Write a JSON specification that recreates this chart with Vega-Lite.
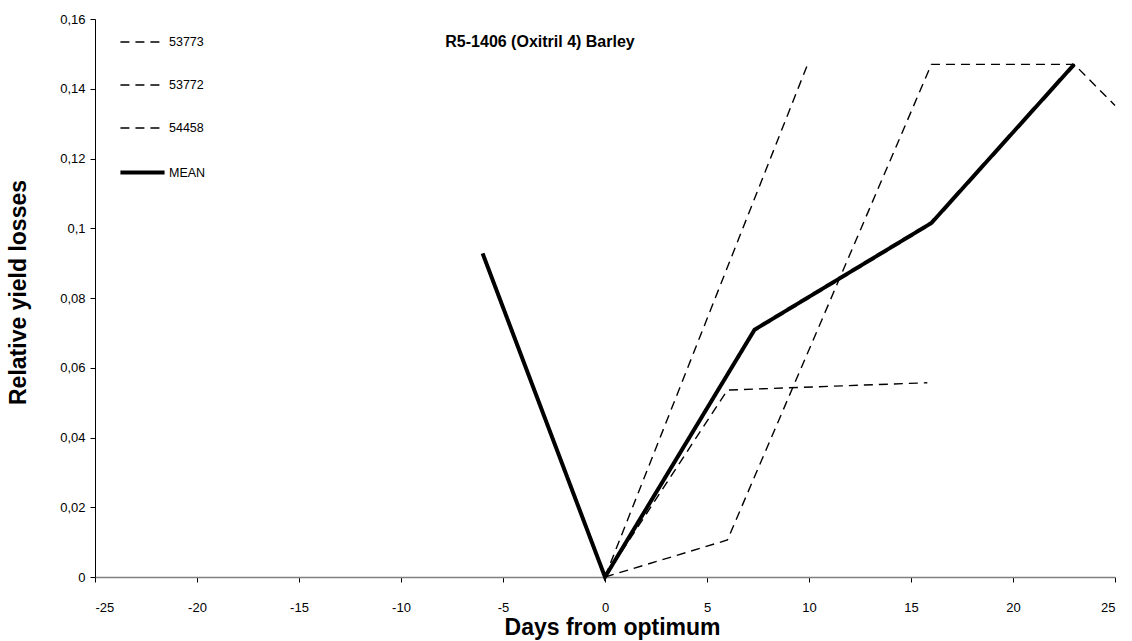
{
  "$schema": "https://vega.github.io/schema/vega-lite/v6.json",
  "autosize": "none",
  "width": 1020,
  "height": 558,
  "padding": {"left": 95, "top": 19, "right": 17, "bottom": 64},
  "background": "white",
  "title": {
    "text": "R5-1406 (Oxitril 4) Barley",
    "font": "Liberation Sans",
    "fontSize": 16,
    "fontWeight": "bold",
    "color": "black",
    "anchor": "middle",
    "frame": "group",
    "orient": "top",
    "offset": -37,
    "dx": -65
  },
  "data": {
    "values": [
      {"series": "53773", "x": 0, "y": 0},
      {"series": "53773", "x": 10, "y": 0.148},
      {"series": "53772", "x": 0, "y": 0},
      {"series": "53772", "x": 6, "y": 0.0106},
      {"series": "53772", "x": 16, "y": 0.147},
      {"series": "53772", "x": 23, "y": 0.147},
      {"series": "53772", "x": 25, "y": 0.1352},
      {"series": "54458", "x": 0, "y": 0},
      {"series": "54458", "x": 6, "y": 0.0536},
      {"series": "54458", "x": 15.8, "y": 0.0557},
      {"series": "MEAN", "x": -6, "y": 0.0928},
      {"series": "MEAN", "x": 0, "y": 0},
      {"series": "MEAN", "x": 7.33, "y": 0.0709},
      {"series": "MEAN", "x": 16, "y": 0.1015},
      {"series": "MEAN", "x": 23, "y": 0.147}
    ]
  },
  "mark": {"type": "line", "color": "black", "strokeCap": "butt", "strokeJoin": "miter"},
  "encoding": {
    "x": {
      "field": "x",
      "type": "quantitative",
      "scale": {"domain": [-25, 25], "nice": false, "zero": false},
      "axis": {
        "values": [-25, -20, -15, -10, -5, 0, 5, 10, 15, 20, 25],
        "labelExpr": "toString(datum.value)",
        "title": "Days from optimum",
        "titleX": 517,
        "titleY": 50,
        "titleBaseline": "middle",
        "titleAnchor": "middle",
        "domainColor": "#808080",
        "domainWidth": 1.5,
        "tickColor": "#000000",
        "tickSize": 5,
        "labelPadding": 19,
        "grid": false
      }
    },
    "y": {
      "field": "y",
      "type": "quantitative",
      "scale": {"domain": [0, 0.16], "nice": false},
      "axis": {
        "values": [0, 0.02, 0.04, 0.06, 0.08, 0.1, 0.12, 0.14, 0.16],
        "labelExpr": "replace(format(datum.value, '.2~f'), '.', ',')",
        "title": "Relative yield losses",
        "titleX": -77,
        "titleY": 273,
        "titleAngle": 270,
        "titleBaseline": "middle",
        "titleAnchor": "middle",
        "domainColor": "#000000",
        "tickColor": "#000000",
        "tickSize": 5,
        "labelPadding": 5,
        "grid": false
      }
    },
    "detail": {"field": "series"},
    "strokeDash": {
      "field": "series",
      "type": "nominal",
      "scale": {"domain": ["53773", "53772", "54458", "MEAN"], "range": [[9, 6], [9, 6], [9, 6], [1, 0]]},
      "legend": {"title": null}
    },
    "strokeWidth": {
      "field": "series",
      "type": "nominal",
      "scale": {"type": "ordinal", "domain": ["53773", "53772", "54458", "MEAN"], "range": [1.4, 1.4, 1.4, 4]},
      "legend": {"title": null}
    },
    "order": {"field": "x", "type": "quantitative"}
  },
  "config": {
    "view": {"stroke": null},
    "axis": {
      "labelFont": "Liberation Sans",
      "labelFontSize": 13,
      "labelColor": "black",
      "titleFont": "Liberation Sans",
      "titleFontSize": 23,
      "titleFontWeight": "bold",
      "titleColor": "black"
    },
    "legend": {
      "orient": "none",
      "legendX": 23,
      "legendY": 0,
      "symbolType": "stroke",
      "symbolSize": 1950,
      "symbolStrokeColor": "black",
      "symbolLimit": 10,
      "labelFont": "Liberation Sans",
      "labelFontSize": 12.5,
      "labelColor": "black",
      "labelOffset": 2,
      "rowPadding": 13,
      "padding": 0
    }
  }
}
